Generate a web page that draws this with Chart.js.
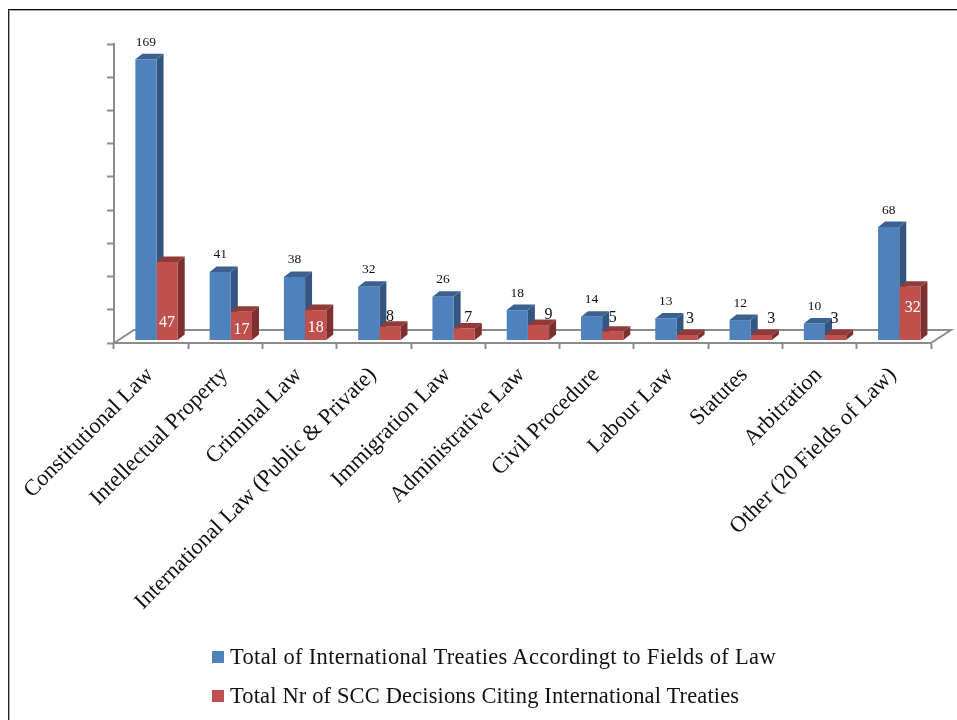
<!DOCTYPE html>
<html>
<head>
<meta charset="utf-8">
<style>
  html, body { margin: 0; padding: 0; background: #fff; overflow: hidden; }
  #frame { position: absolute; left: 8px; top: 9px; width: 949px; height: 711px; box-sizing: border-box;
           border-left: 1px solid #222; border-top: 1px solid #111; box-shadow: inset 1px 1px 0 #a8a8a8; }
  #chartBox { position: absolute; left: 0; top: 0; width: 957px; height: 720px; }
  #legend { position: absolute; left: 212px; top: 637px; color: #111;
            font: 22.5px "Liberation Serif", serif; }
  .legend-row { display: flex; align-items: center; height: 39px; }
  .legend-swatch { width: 12px; height: 12px; margin-right: 6px; }
</style>
</head>
<body>
<div id="frame"></div>
<div id="chartBox"><canvas id="chart" width="957" height="720"></canvas></div>
<div id="legend"></div>
<script src="https://cdn.jsdelivr.net/npm/chart.js@4"></script>
<script>
const categories = [
  "Constitutional Law", "Intellectual Property", "Criminal Law",
  "International Law (Public & Private)", "Immigration Law", "Administrative Law",
  "Civil Procedure", "Labour Law", "Statutes", "Arbitration", "Other (20 Fields of Law)",
];
const treatyCounts = [169, 41, 38, 32, 26, 18, 14, 13, 12, 10, 68];
const decisionCounts = [47, 17, 18, 8, 7, 9, 5, 3, 3, 3, 32];
const treatyLabel = "Total of International Treaties Accordingt to Fields of Law";
const decisionLabel = "Total Nr of SCC Decisions Citing International Treaties";

// Colours per series: front, side, top
const blueFaces = ["#4f81bd", "#34557f", "#3b6191"];
const redFaces = ["#c0504d", "#7c3130", "#913b39"];

// Depth of the 3D extrusion and of the floor, in px
const barDepth = [7, 5.5];
const floorDepth = [20, 13];
const barShift = 5.4;
const axisGrey = "#8c8c8c";

// Hand placed red labels: px above the bar base, px right of the bar centre
const decisionLabelLift = [17, 10, 12, 23, 22, 25, 22, 21, 21, 21, 32];
const decisionLabelShift = [0, 0, 0, 0, 4, 10, 0, 3, 10, -1, 3];
const insideLabel = [true, true, true, false, false, false, false, false, false, false, true];

// Front of the floor sits a little below where the bars stand
const floorDrop = 1.8;
const yTicks = [0, 20, 40, 60, 80, 100, 120, 140, 160, 180].map((v) => v - floorDrop);

// Bars stand slightly back from the front edge of the floor
const shiftPlugin = {
  id: "shiftBars",
  afterDatasetsUpdate(chart) {
    chart.data.datasets.forEach((ds, i) => {
      chart.getDatasetMeta(i).data.forEach((bar) => {
        bar.x += barShift;
      });
    });
  },
};

// Floor edges behind the bars
const floorPlugin = {
  id: "floor",
  beforeDatasetsDraw(chart) {
    const ctx = chart.ctx;
    const { left, right, bottom } = chart.chartArea;
    const [dx, dy] = floorDepth;
    ctx.strokeStyle = axisGrey;
    ctx.lineWidth = 2;
    ctx.beginPath();
    ctx.moveTo(left, bottom);
    ctx.lineTo(left + dx, bottom - dy);
    ctx.lineTo(right + dx, bottom - dy);
    ctx.lineTo(right, bottom);
    ctx.stroke();
  },
};

// Side and top faces go behind the fronts the library draws
const extrudePlugin = {
  id: "extrude",
  beforeDatasetsDraw(chart) {
    const ctx = chart.ctx;
    const [dx, dy] = barDepth;
    chart.data.datasets.forEach((ds, i) => {
      const faces = i === 0 ? blueFaces : redFaces;
      chart.getDatasetMeta(i).data.forEach((bar) => {
        const left = bar.x - bar.width / 2;
        const right = bar.x + bar.width / 2;
        ctx.fillStyle = faces[1];
        ctx.beginPath();
        ctx.moveTo(right, bar.y);
        ctx.lineTo(right + dx, bar.y - dy);
        ctx.lineTo(right + dx, bar.base - dy);
        ctx.lineTo(right, bar.base);
        ctx.fill();
        ctx.fillStyle = faces[2];
        ctx.beginPath();
        ctx.moveTo(left, bar.y);
        ctx.lineTo(left + dx, bar.y - dy);
        ctx.lineTo(right + dx, bar.y - dy);
        ctx.lineTo(right, bar.y);
        ctx.fill();
      });
    });
  },
};

// Value labels over the blue bars and around the red ones
const valueLabelPlugin = {
  id: "valueLabels",
  afterDatasetsDraw(chart) {
    const ctx = chart.ctx;
    ctx.textAlign = "center";
    ctx.textBaseline = "middle";
    ctx.font = '13.5px "Liberation Serif", serif';
    ctx.fillStyle = "#111";
    chart.getDatasetMeta(0).data.forEach((bar, i) => {
      ctx.fillText(treatyCounts[i], bar.x, bar.y - 17);
    });
    ctx.font = '16px "Liberation Serif", serif';
    chart.getDatasetMeta(1).data.forEach((bar, i) => {
      ctx.fillStyle = insideLabel[i] ? "#fff" : "#111";
      ctx.fillText(decisionCounts[i], bar.x + decisionLabelShift[i], bar.base - decisionLabelLift[i]);
    });
  },
};

new Chart(document.getElementById("chart"), {
  type: "bar",
  data: {
    labels: categories,
    datasets: [
      { label: treatyLabel, data: treatyCounts, backgroundColor: blueFaces[0] },
      { label: decisionLabel, data: decisionCounts, backgroundColor: redFaces[0] },
    ],
  },
  options: {
    responsive: false,
    animation: false,
    layout: { padding: { top: 44, right: 26 } },
    plugins: { legend: { display: false }, tooltip: { enabled: false } },
    datasets: { bar: { categoryPercentage: 0.57, barPercentage: 1 } },
    scales: {
      x: {
        afterFit(scale) { scale.height = 377; },
        grid: { drawOnChartArea: false, tickLength: 6, tickColor: axisGrey, tickWidth: 2 },
        border: { color: axisGrey, width: 2 },
        ticks: {
          autoSkip: false, maxRotation: 45, minRotation: 45, padding: 13, labelOffset: -1,
          color: "#111", font: { family: '"Liberation Serif", serif', size: 22.5 },
        },
      },
      y: {
        min: -floorDrop,
        max: 180 - floorDrop,
        afterFit(scale) { scale.width = 114; },
        afterBuildTicks(scale) { scale.ticks = yTicks.map((value) => ({ value })); },
        grid: { drawOnChartArea: false, tickLength: 7, tickColor: axisGrey, tickWidth: 2 },
        border: { color: axisGrey, width: 2 },
        ticks: { display: false },
      },
    },
  },
  plugins: [shiftPlugin, floorPlugin, extrudePlugin, valueLabelPlugin],
});

// Legend stacked and left aligned under the chart
const legendBox = document.getElementById("legend");
[[treatyLabel, blueFaces[0], "0.32px"], [decisionLabel, redFaces[0], "0.14px"]].forEach(([text, color, tracking]) => {
  const row = document.createElement("div");
  row.className = "legend-row";
  row.style.letterSpacing = tracking;
  const swatch = document.createElement("span");
  swatch.className = "legend-swatch";
  swatch.style.background = color;
  row.appendChild(swatch);
  row.appendChild(document.createTextNode(text));
  legendBox.appendChild(row);
});
</script>
</body>
</html>
